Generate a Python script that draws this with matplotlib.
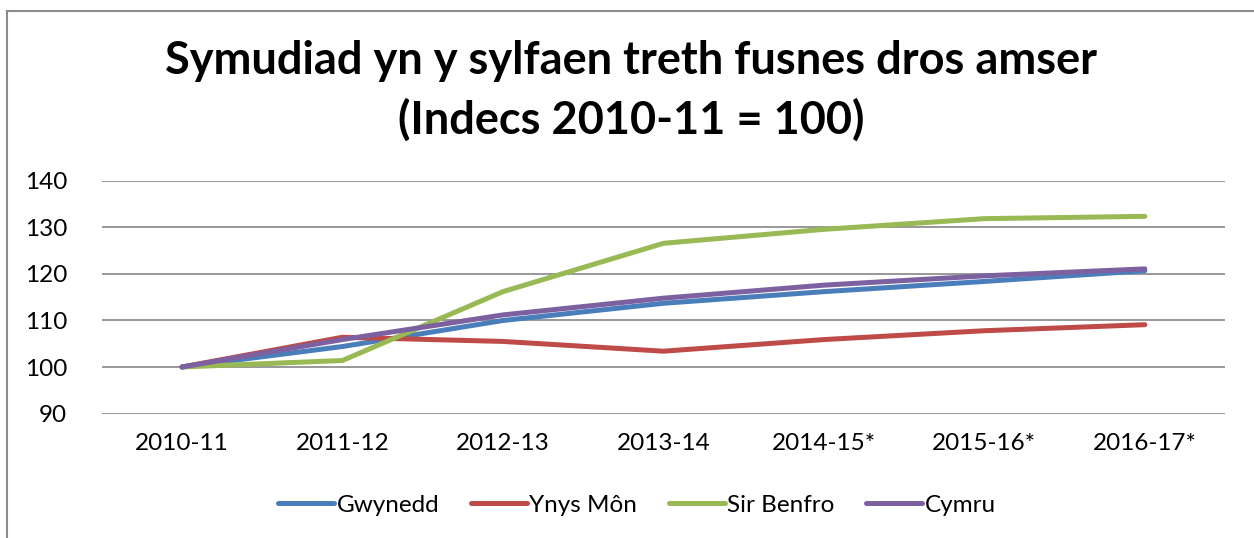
import matplotlib.pyplot as plt
from matplotlib.patches import Rectangle

years = ['2010-11', '2011-12', '2012-13', '2013-14', '2014-15*', '2015-16*', '2016-17*']
gwynedd = [100, 104.4, 110.0, 113.7, 116.2, 118.4, 120.7]
ynys_mon = [100, 106.4, 105.5, 103.4, 105.9, 107.8, 109.1]
sir_benfro = [100, 101.4, 116.2, 126.6, 129.6, 131.9, 132.4]
cymru = [100, 105.9, 111.2, 114.8, 117.6, 119.6, 121.1]

plt.rcParams['font.family'] = ['Lato', 'DejaVu Sans']

fig = plt.figure(figsize=(12.54, 5.38), dpi=100)
ax = fig.add_axes([0.0811, 0.2314, 0.8958, 0.4322])

# outer chart frame (only left and top edges are visible in the crop)
fig.patches.append(Rectangle((7 / 1254, -0.1), 1.2, 1 - 11 / 538 + 0.1,
                             transform=fig.transFigure, fill=False,
                             edgecolor='#8c8c8c', linewidth=1.5))

x = list(range(len(years)))
ax.plot(x, gwynedd, color='#4A7EBB', lw=3.6, label='Gwynedd', solid_capstyle='round')
ax.plot(x, ynys_mon, color='#BE4B48', lw=3.6, label='Ynys Môn', solid_capstyle='round')
ax.plot(x, sir_benfro, color='#98B954', lw=3.6, label='Sir Benfro', solid_capstyle='round')
ax.plot(x, cymru, color='#7D60A0', lw=3.6, label='Cymru', solid_capstyle='round')

ax.set_xlim(-0.5, 6.5)
ax.set_ylim(90, 140)
ax.set_yticks(range(90, 141, 10))
ax.set_xticks(x)
ax.set_xticklabels(years)
ax.grid(axis='y', color='#868686', lw=1.2)
ax.set_axisbelow(True)
for s in ax.spines.values():
    s.set_visible(False)
ax.tick_params(axis='both', length=0, labelsize=17.5)
ax.tick_params(axis='y', pad=25)
ax.tick_params(axis='x', pad=14)

fig.text(0.503, 0.831, 'Symudiad yn y sylfaen treth fusnes dros amser\n(Indecs 2010-11 = 100)',
         ha='center', va='center', fontsize=32.5, fontweight='bold', linespacing=1.44)

ax.legend(loc='center', bbox_to_anchor=(0.508, 0.061), bbox_transform=fig.transFigure,
          ncol=4, frameon=False, fontsize=17.5, handlelength=2.3, handletextpad=0.1,
          columnspacing=1.3)

fig.savefig('out.png', dpi=100)
